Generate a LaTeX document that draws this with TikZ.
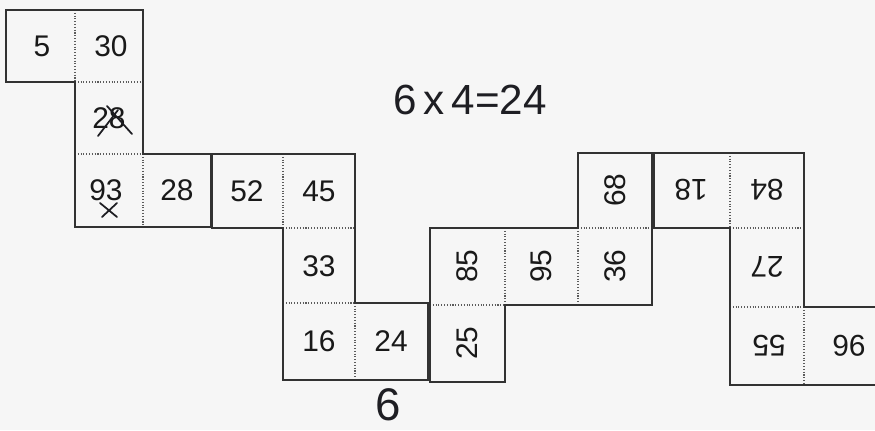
\documentclass[tikz,border=0pt]{standalone}
\usepackage{fontspec}
\setmainfont{Liberation Sans}
\usetikzlibrary{calc}
\definecolor{PaperGray}{RGB}{246,246,246}
\definecolor{InkGray}{RGB}{50,50,50}
\definecolor{PenBlack}{RGB}{30,30,35}

\begin{document}
\begin{tikzpicture}[x=0.02cm,y=-0.02cm,
  edge/.style={draw=InkGray,line width=1pt,line join=miter},
  fold/.style={draw=InkGray!80,line width=0.6pt,densely dotted},
  num/.style={inner sep=0pt,text=black!90,font=\fontsize{17}{20}\selectfont},
  pen/.style={draw=PenBlack,line width=1pt,line cap=round},
  hand/.style={inner sep=0pt,text=PenBlack,font=\fontsize{24}{28}\selectfont}
]
  \fill[PaperGray] (0,0) rectangle (875,430);
  \useasboundingbox (0,0) rectangle (875,430);
  % piece A
  \draw[fold] (75,10)--(75,82) (75,82)--(143,82) (75,154)--(143,154) (143,154)--(143,227);
  \draw[edge] (6,10)--(143,10)--(143,154)--(211,154)--(211,227)--(75,227)--(75,82)--(6,82)--cycle;
  \node[num] (n5) at (42,46) {5};
  \node[num] (n30) at (111,46) {30};
  \node[num] (n28a) at (109,118) {28};
  \node[num] (n93) at (106,190) {93};
  \node[num] (n28b) at (177,190) {28};
  \draw[pen] (98,136)--(118,110) (107,106)--(132,134);
  \draw[pen] (100,203)--(117,217) (102,217)--(117,203);
  % piece B
  \draw[fold] (283,154)--(283,228) (283,228)--(355,228) (283,303)--(355,303) (355,303)--(355,380);
  \draw[edge] (212,154)--(355,154)--(355,303)--(428,303)--(428,380)--(283,380)--(283,228)--(212,228)--cycle;
  \node[num] (n52) at (247,191) {52};
  \node[num] (n45) at (319,191) {45};
  \node[num] (n33) at (319,266) {33};
  \node[num] (n16) at (319,341) {16};
  \node[num] (n24) at (391,341) {24};
  % piece C
  \draw[fold] (505,228)--(505,305) (578,228)--(578,305) (578,228)--(652,228) (430,305)--(505,305);
  \draw[edge] (430,228)--(578,228)--(578,153)--(652,153)--(652,305)--(505,305)--(505,382)--(430,382)--cycle;
  \node[num,rotate=90] (n68) at (615,190) {68};
  \node[num,rotate=90] (n85) at (467,266) {85};
  \node[num,rotate=90] (n95) at (541,266) {95};
  \node[num,rotate=90] (n36) at (615,266) {36};
  \node[num,rotate=90] (n25) at (467,343) {25};
  % piece D
  \draw[fold] (730,153)--(730,228) (730,228)--(804,228) (730,307)--(804,307) (804,307)--(804,385);
  \draw[edge] (654,153)--(804,153)--(804,307)--(880,307)--(880,385)--(730,385)--(730,228)--(654,228)--cycle;
  \node[num,rotate=180] (n18) at (691,190) {18};
  \node[num,rotate=180] (n84) at (767,190) {84};
  \node[num,rotate=180] (n27) at (767,267) {27};
  \node[num,rotate=180] (n55) at (769,346) {55};
  \node[num,rotate=180] (n96) at (849,346) {96};
  % handwriting
  \node[hand] (sum) at (470,100) {6\,x\,4=24};
  \node[hand,font=\fontsize{26}{30}\selectfont] (six) at (388,405) {6};
\end{tikzpicture}
\end{document}
